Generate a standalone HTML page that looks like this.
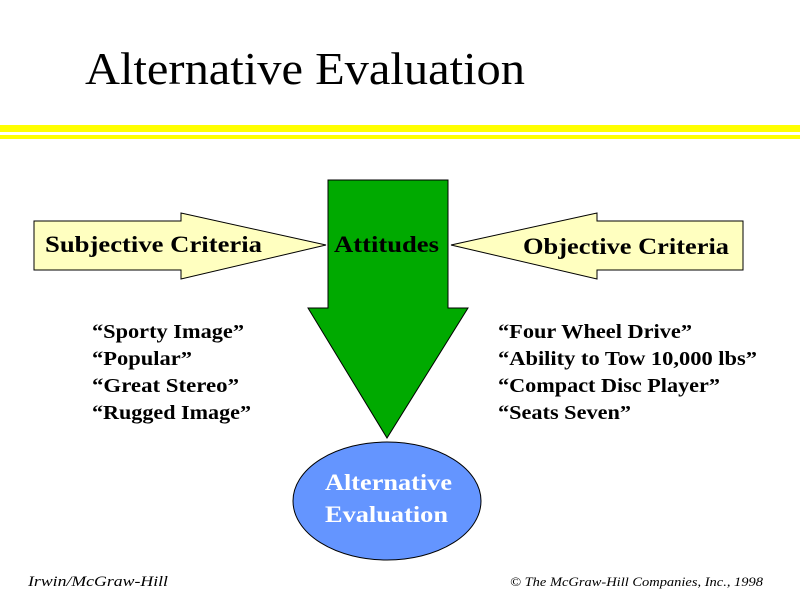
<!DOCTYPE html>
<html><head><style>
body{margin:0;background:#fff;}
svg{display:block;}
text{font-family:"Liberation Serif",serif;}
</style></head><body>
<svg width="800" height="600" viewBox="0 0 800 600">
<rect x="0" y="125" width="800" height="7" fill="#ffff00"/>
<rect x="0" y="135" width="800" height="4" fill="#ffff00"/>
<text x="85" y="84" font-size="46" textLength="440" lengthAdjust="spacingAndGlyphs">Alternative Evaluation</text>
<polygon points="34,221 181,221 181,213 326,245 181,279 181,270 34,270" fill="#ffffc0" stroke="#000" stroke-width="1"/>
<polygon points="743,221 597,221 597,213 451,245 597,279 597,270 743,270" fill="#ffffc0" stroke="#000" stroke-width="1"/>
<polygon points="328,180 448,180 448,308 468,308 387,438 308,308 328,308" fill="#00aa00" stroke="#000" stroke-width="1"/>
<ellipse cx="387" cy="501" rx="94" ry="59" fill="#6495ff" stroke="#000" stroke-width="1"/>
<g font-weight="bold" font-size="23" lengthAdjust="spacingAndGlyphs">
<text x="45" y="252" textLength="217" lengthAdjust="spacingAndGlyphs">Subjective Criteria</text>
<text x="334" y="252" textLength="105" lengthAdjust="spacingAndGlyphs">Attitudes</text>
<text x="523" y="254" textLength="206" lengthAdjust="spacingAndGlyphs">Objective Criteria</text>
<text x="325" y="490" fill="#fff" textLength="127" lengthAdjust="spacingAndGlyphs">Alternative</text>
<text x="325" y="522" fill="#fff" textLength="123" lengthAdjust="spacingAndGlyphs">Evaluation</text>
</g>
<g font-weight="bold" font-size="20">
<text x="92" y="338" textLength="152" lengthAdjust="spacingAndGlyphs">“Sporty Image”</text>
<text x="92" y="365" textLength="100" lengthAdjust="spacingAndGlyphs">“Popular”</text>
<text x="92" y="392" textLength="147" lengthAdjust="spacingAndGlyphs">“Great Stereo”</text>
<text x="92" y="419" textLength="159" lengthAdjust="spacingAndGlyphs">“Rugged Image”</text>
<text x="498" y="338" textLength="194" lengthAdjust="spacingAndGlyphs">“Four Wheel Drive”</text>
<text x="498" y="365" textLength="259" lengthAdjust="spacingAndGlyphs">“Ability to Tow 10,000 lbs”</text>
<text x="498" y="392" textLength="222" lengthAdjust="spacingAndGlyphs">“Compact Disc Player”</text>
<text x="498" y="419" textLength="133" lengthAdjust="spacingAndGlyphs">“Seats Seven”</text>
</g>
<text x="28" y="586" font-size="15" font-style="italic" textLength="140" lengthAdjust="spacingAndGlyphs">Irwin/McGraw-Hill</text>
<text x="510" y="586" font-size="13" font-style="italic" textLength="253" lengthAdjust="spacingAndGlyphs">© The McGraw-Hill Companies, Inc., 1998</text>
</svg>
</body></html>
